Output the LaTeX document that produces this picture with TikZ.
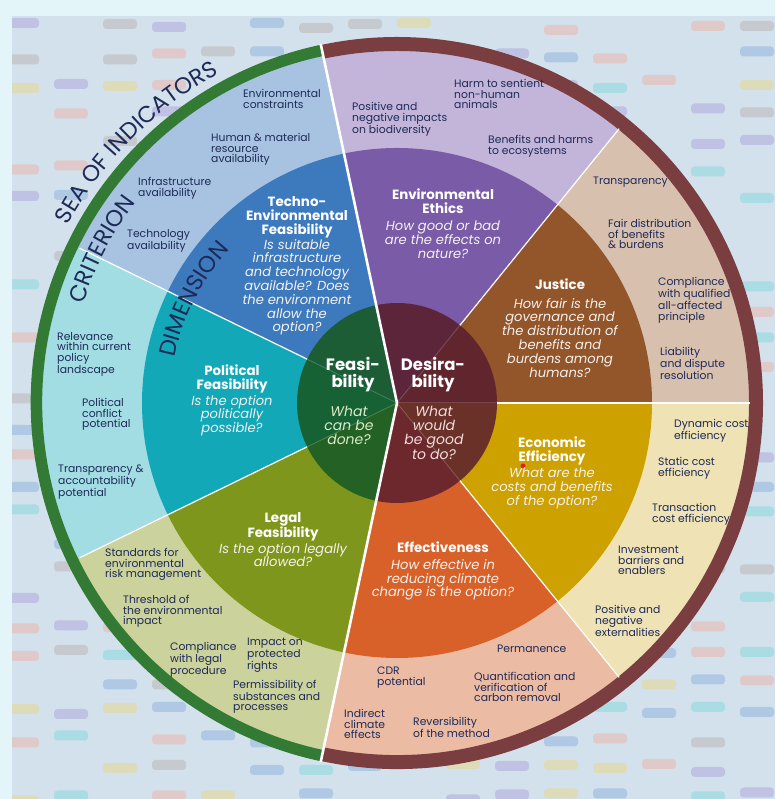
\documentclass[tikz,border=0pt]{standalone}
\usepackage{fontspec}
\setmainfont{Poppins}
\usetikzlibrary{decorations.text}
\definecolor{bgout}{HTML}{E3F5F9}
\definecolor{panel}{HTML}{D3E1EC}
\definecolor{navy}{HTML}{1E2A57}
\definecolor{pill1}{HTML}{AFC8E4}
\definecolor{pill2}{HTML}{DDDBB8}
\definecolor{pill3}{HTML}{C6C9CE}
\definecolor{pill4}{HTML}{C0C2E4}
\definecolor{pill5}{HTML}{AADCE3}
\definecolor{pill6}{HTML}{DFCAC9}
\definecolor{techD}{HTML}{3D7ABD}
\definecolor{techB}{HTML}{A7C3E1}
\definecolor{polD}{HTML}{13A8B8}
\definecolor{polB}{HTML}{A2DDE4}
\definecolor{legD}{HTML}{7E961B}
\definecolor{legB}{HTML}{CBD29B}
\definecolor{ethD}{HTML}{7A5BA8}
\definecolor{ethB}{HTML}{C3B5DA}
\definecolor{jusD}{HTML}{93552A}
\definecolor{jusB}{HTML}{D8C0AE}
\definecolor{ecoD}{HTML}{CDA100}
\definecolor{ecoB}{HTML}{EFE2B4}
\definecolor{effD}{HTML}{D8612A}
\definecolor{effB}{HTML}{ECBBA3}
\definecolor{cgreen}{HTML}{185A26}
\definecolor{cmaroon}{HTML}{5A1F2E}
\definecolor{ringG}{HTML}{337A35}
\definecolor{ringM}{HTML}{7A3E40}
\definecolor{qwhite}{HTML}{F6F1EE}
\definecolor{fq}{HTML}{D9ECC6}
\definecolor{dq}{HTML}{F2DCDC}
\definecolor{reddot}{HTML}{E0201C}
\newcommand\indf{\fontsize{10.8}{10.6}\selectfont}
\newcommand\dimf{\fontsize{13.4}{14}\selectfont\bfseries}
\newcommand\qf{\fontsize{13.1}{13.8}\selectfont\itshape}
\newcommand\cenf{\fontsize{16.5}{17}\selectfont\bfseries}
\newcommand\cqf{\fontsize{14}{14}\selectfont\itshape}
\newcommand\arcf{\fontsize{23}{23}\selectfont}
\newcommand\wdg[4]{\fill[#1] (0,0) -- (#2:#4) arc[start angle=#2, end angle=#3, radius=#4] -- cycle;}
\tikzset{
  ind/.style={anchor=north west, align=left, inner sep=0pt, text=navy, font=\indf},
  dimt/.style={anchor=north, align=center, inner sep=0pt, text=white, font=\dimf},
  dimq/.style={anchor=north, align=center, inner sep=0pt, text=qwhite, font=\qf},
  cent/.style={anchor=north, align=center, inner sep=0pt, text=white, font=\cenf},
  cenq/.style={anchor=north, align=center, inner sep=0pt, font=\cqf},
  sepline/.style={white, line width=1.2pt},
  faint/.style={white, opacity=0.15, line width=1pt},
}
\begin{document}
\begin{tikzpicture}[x=1pt,y=1pt]
\useasboundingbox (0,0) rectangle (775,799);
\fill[bgout] (0,0) rectangle (775,799);
\fill[panel] (12,0) rectangle (775,783);
% background pills
\begin{scope}
\clip (12,0) rectangle (775,783);
\pgfmathsetseed{12}
\foreach \i in {0,...,15}{
  \foreach \j in {0,...,27}{
    \pgfmathsetmacro{\xx}{22+49*\i}
    \pgfmathsetmacro{\yy}{799-(18+28.5*\j+random(0,8))}
    \pgfmathtruncatemacro{\kk}{random(1,6)}
    \pgfmathtruncatemacro{\sk}{random(1,10)}
    \ifnum\sk>7\relax\else
      \fill[pill\kk, rounded corners=3.5pt] (\xx-17,\yy) rectangle (\xx+17,\yy-10);
    \fi
  }
}
\end{scope}
\begin{scope}[shift={(397,396)}]
% criterion bands
\wdg{techB}{102}{154}{356}
\wdg{polB}{154}{206}{356}
\wdg{legB}{206}{258}{356}
\wdg{effB}{258}{309}{356}
\wdg{ecoB}{309}{360}{356}
\wdg{jusB}{0}{51}{356}
\wdg{ethB}{51}{102}{356}
% dimensions
\wdg{techD}{102}{154}{255}
\wdg{polD}{154}{206}{255}
\wdg{legD}{206}{258}{255}
\wdg{effD}{258}{309}{255}
\wdg{ecoD}{309}{360}{255}
\wdg{jusD}{0}{51}{255}
\wdg{ethD}{51}{102}{255}
% centre
\wdg{cgreen!90!techD}{102}{154}{100}
\wdg{cgreen!90!polD}{154}{206}{100}
\wdg{cgreen!88!legD}{206}{258}{100}
\wdg{cmaroon!86!effD}{258}{309}{100}
\wdg{cmaroon!86!ecoD}{309}{360}{100}
\wdg{cmaroon!88!jusD}{0}{51}{100}
\wdg{cmaroon!90!ethD}{51}{102}{100}
% outer rings
\draw[ringG, line width=11.5pt] (102:360.5) arc[start angle=102, end angle=258, radius=360.5];
\draw[ringM, line width=14pt] (-102:359) arc[start angle=-102, end angle=102, radius=359];
% separators
\foreach \a in {154,206,309,0,51}{
  \draw[sepline] (\a:100) -- (\a:353);
  \draw[faint] (0,0) -- (\a:100);
}
\draw[white, line width=2.6pt, line join=miter] (102:367) -- (0,0) -- (258:367);
% arc texts
\path[decorate, decoration={text along path, text={|\arcf|SEA OF INDICATORS}, text align=center, text color=navy}]
  (170:374) arc[start angle=170, end angle=100, radius=374];
\path[decorate, decoration={text along path, text={|\arcf|CRITERION}, text align=center, text color=navy}]
  (185:329) arc[start angle=185, end angle=120, radius=329];
\path[decorate, decoration={text along path, text={|\arcf|DIMENSION}, text align=center, text color=navy}]
  (188:227) arc[start angle=188, end angle=118, radius=227];
\end{scope}
% red dot
\fill[reddot] (523,333) circle[radius=2.5];
% indicators
\node[ind] (envcon) at (243,710) {Environmental\\constraints};
\node[ind] (human) at (211,666) {Human \& material\\resource\\availability};
\node[ind] (infra) at (138,622) {Infrastructure\\availability};
\node[ind] (techav) at (127,570) {Technology\\availability};
\node[ind] (posneg) at (352,697) {Positive and\\negative impacts\\on biodiversity};
\node[ind] (harm) at (454,720) {Harm to sentient\\non-human\\animals};
\node[ind] (benef) at (488,664) {Benefits and harms\\to ecosystems};
\node[ind] (transp) at (593,622) {Transparency};
\node[ind] (fair) at (608,580) {Fair distribution\\of benefits\\\& burdens};
\node[ind] (compl) at (658,522) {Compliance\\with qualified\\all-affected\\principle};
\node[ind] (liab) at (660,452) {Liability\\and dispute\\resolution};
\node[ind] (dyn) at (674,380) {Dynamic cost\\efficiency};
\node[ind] (stat) at (658,342) {Static cost\\efficiency};
\node[ind] (transc) at (652,296) {Transaction\\cost efficiency};
\node[ind] (invest) at (618,253) {Investment\\barriers and\\enablers};
\node[ind] (extern) at (595,194) {Positive and\\negative\\externalities};
\node[ind] (perm) at (497,154) {Permanence};
\node[ind] (quant) at (474,127) {Quantification and\\verification of\\carbon removal};
\node[ind] (revers) at (413,82) {Reversibility\\of the method};
\node[ind] (cdr) at (377,132) {CDR\\potential};
\node[ind] (indir) at (344,90) {Indirect\\climate\\effects};
\node[ind] (stand) at (105,251) {Standards for\\environmental\\risk management};
\node[ind] (thresh) at (123,204) {Threshold of\\the environmental\\impact};
\node[ind] (compleg) at (170,157) {Compliance\\with legal\\procedure};
\node[ind] (impact) at (247,161) {Impact on\\protected\\rights};
\node[ind] (permis) at (233,119) {Permissibility of\\substances and\\processes};
\node[ind] (relev) at (57,467) {Relevance\\within current\\policy\\landscape};
\node[ind] (polcon) at (82,401) {Political\\conflict\\potential};
\node[ind] (transacc) at (58,334) {Transparency \&\\accountability\\potential};
% dimensions
\node[dimt] (techT) at (297,603) {Techno-\\Environmental\\Feasibility};
\node[dimq] (techQ) at (297,560) {Is suitable\\infrastructure\\and technology\\available? Does\\the environment\\allow the\\option?};
\node[dimt] (polT) at (232,434) {Political\\Feasibility};
\node[dimq] (polQ) at (232,404) {Is the option\\politically\\possible?};
\node[dimt] (legT) at (283,287) {Legal\\Feasibility};
\node[dimq] (legQ) at (283,256) {Is the option legally\\allowed?};
\node[dimt] (ethT) at (443,610) {Environmental\\Ethics};
\node[dimq] (ethQ) at (443,578) {How good or bad\\are the effects on\\nature?};
\node[dimt] (jusT) at (560,520) {Justice};
\node[dimq] (jusQ) at (560,501) {How fair is the\\governance and\\the distribution of\\benefits and\\burdens among\\humans?};
\node[dimt] (ecoT) at (552,362) {Economic\\Efficiency};
\node[dimq] (ecoQ) at (552,331) {What are the\\costs and benefits\\of the option?};
\node[dimt] (effT) at (443,257) {Effectiveness};
\node[dimq] (effQ) at (443,240) {How effective in\\reducing climate\\change is the option?};
% centre
\node[cent] (feasT) at (353,442) {Feasi-\\bility};
\node[cenq, text=fq] (feasQ) at (349,393) {What\\can be\\done?};
\node[cent] (desT) at (433,442) {Desira-\\bility};
\node[cenq, text=dq] (desQ) at (434,393) {What\\would\\be good\\to do?};
\end{tikzpicture}
\end{document}
